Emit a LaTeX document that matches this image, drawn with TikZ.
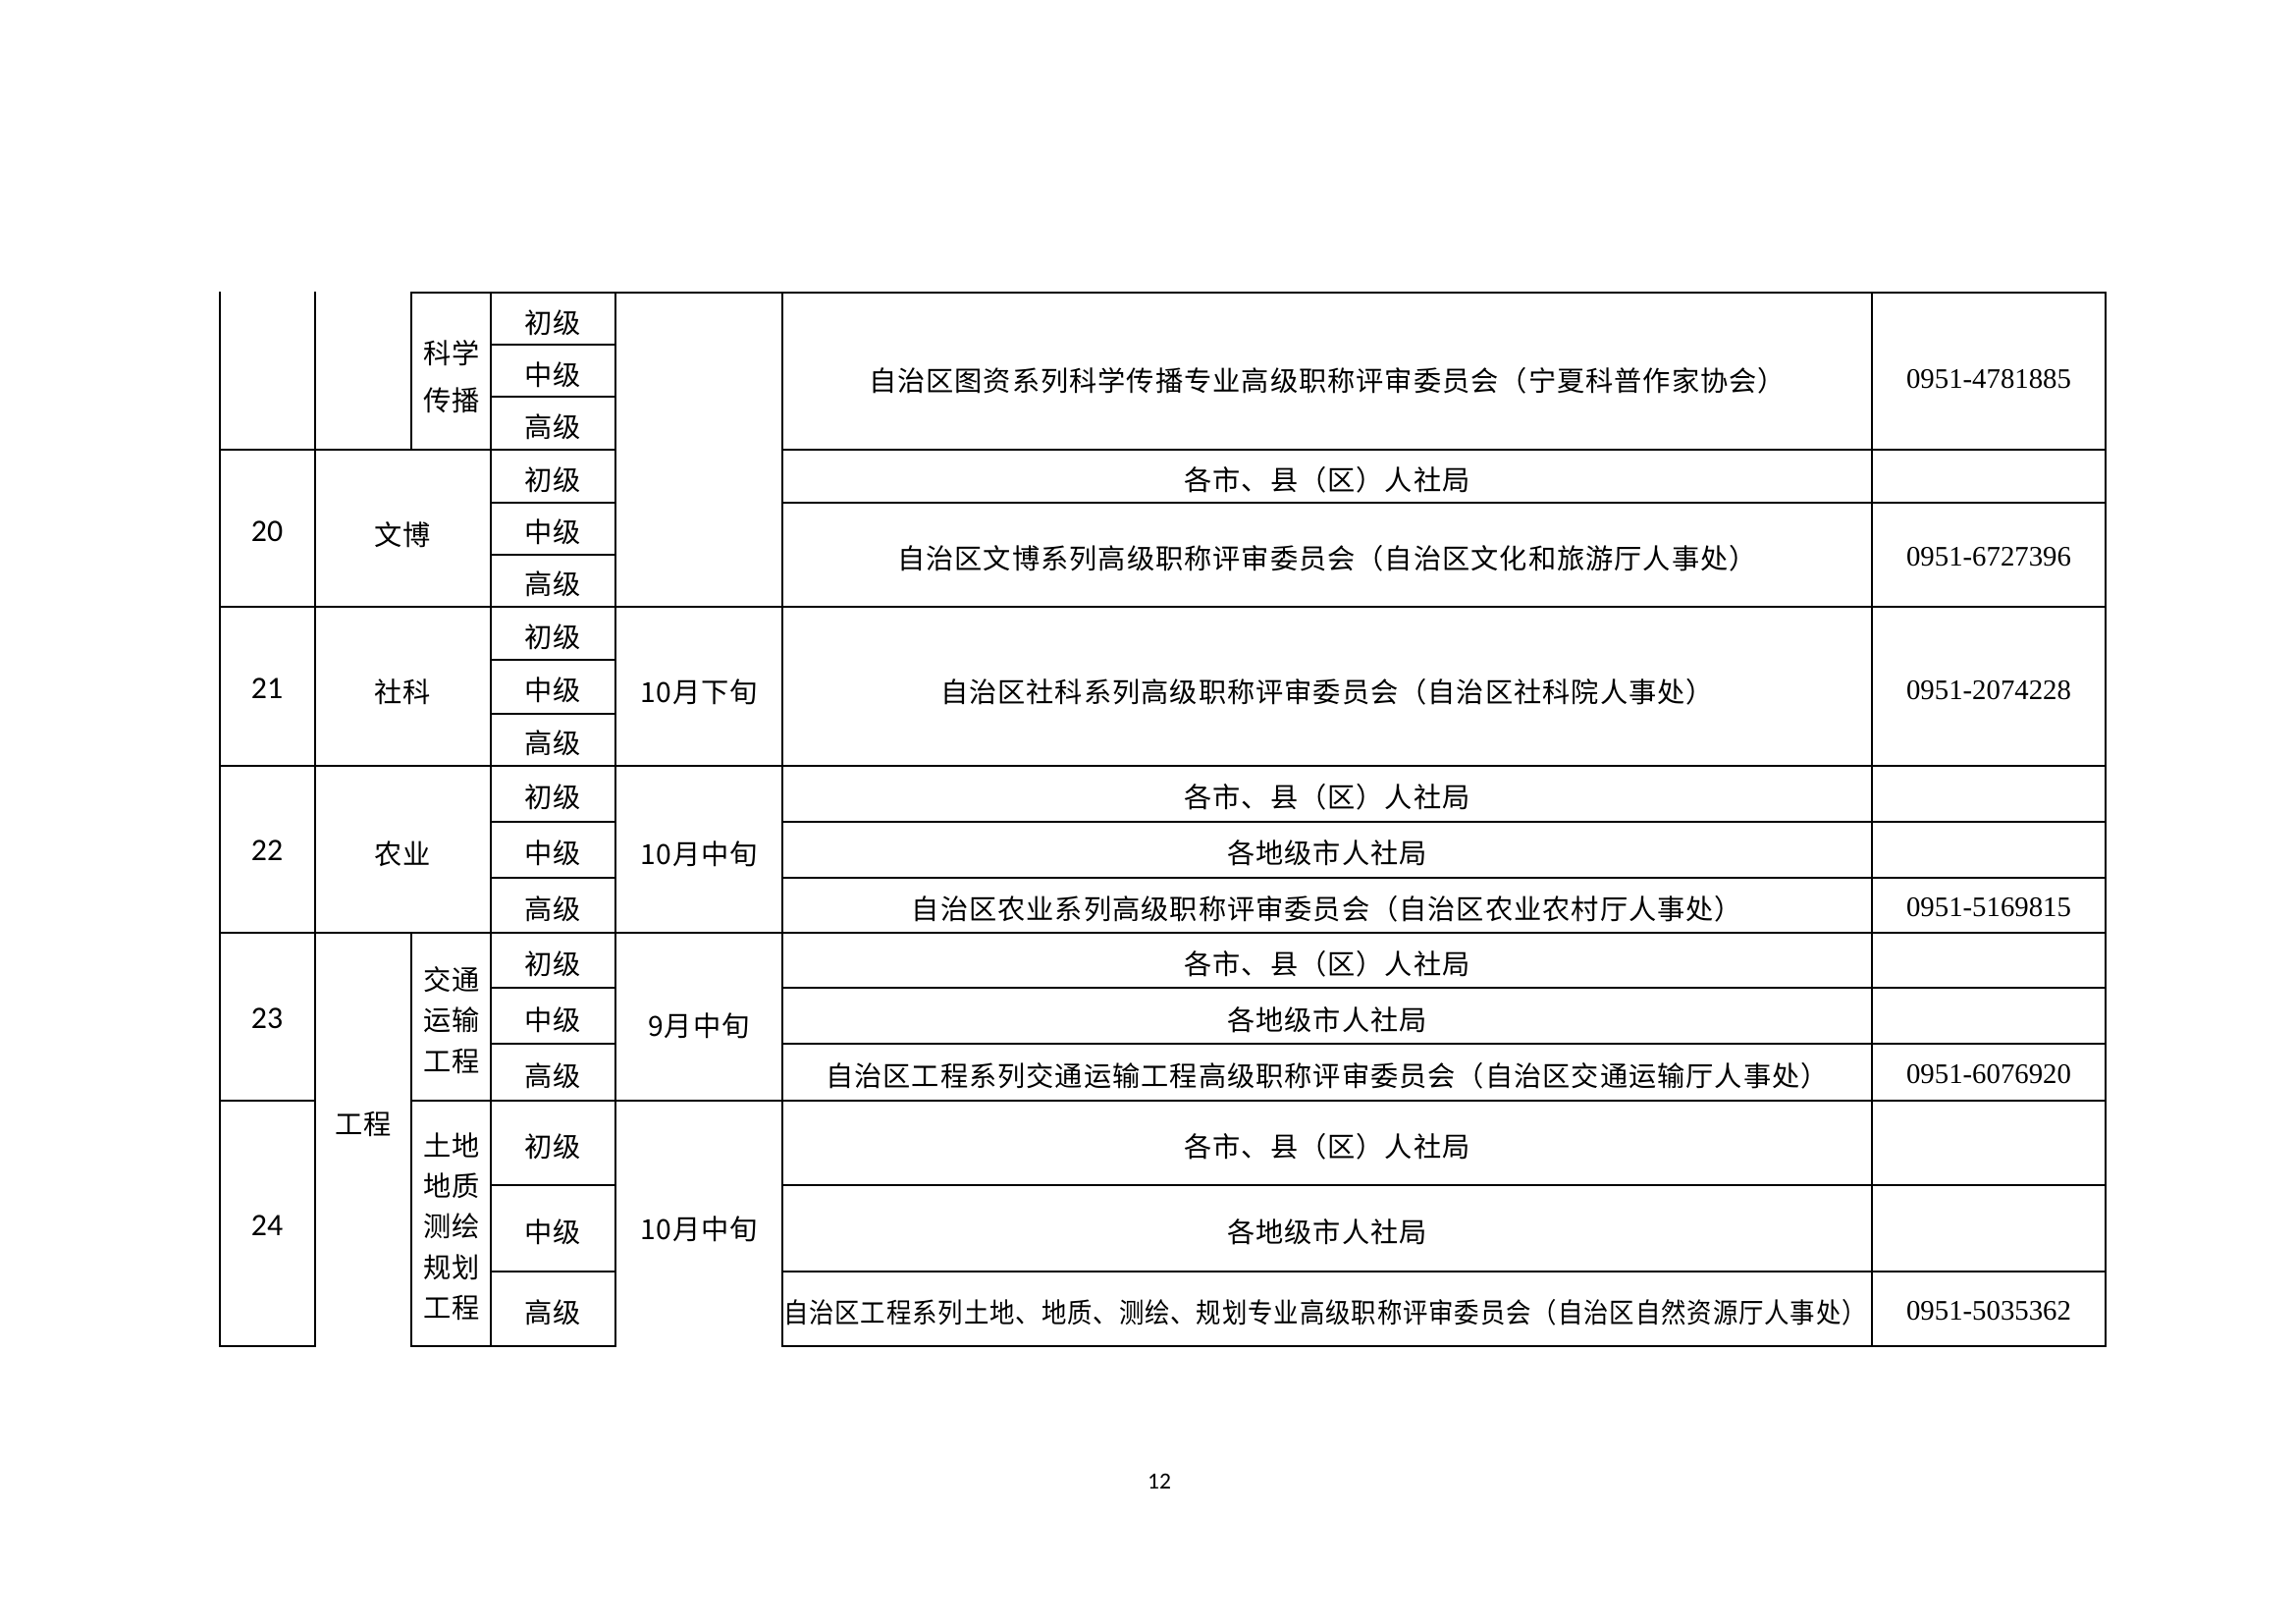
\documentclass[tikz,border=0pt]{standalone}
\usepackage{fontspec}
\usepackage{graphicx}
\newfontfamily\cjk[LetterSpace=3.5]{Noto Sans CJK SC}
\newfontfamily\carl{Carlito}
\newfontfamily\telfont{Liberation Serif}
\begin{document}
\begin{tikzpicture}[x=0.127mm,y=-0.127mm,
  grid/.style={line width=0.7pt,black,line cap=rect},
  zh/.style={font=\cjk\fontsize{10.2}{12}\selectfont,inner sep=0pt,anchor=center,yshift=-0.5mm},
  zhv/.style={font=\cjk\fontsize{10.2}{14.9}\selectfont,inner sep=0pt,anchor=center,align=center},
  zhw/.style={font=\cjk\fontsize{10.2}{17.3}\selectfont,inner sep=0pt,anchor=center,align=center},
  num/.style={font=\carl\fontsize{11.5}{13}\selectfont,inner sep=0pt,anchor=center},
  tel/.style={font=\telfont\fontsize{10.4}{12}\selectfont,inner sep=0pt,anchor=center,yshift=-0.3mm},
  pg/.style={font=\carl\fontsize{8.5}{10}\selectfont,inner sep=0pt,anchor=center}]
\useasboundingbox[fill=white] (0,0) rectangle (2339,1653);

% ---------- horizontal lines ----------
\draw[grid] (419,298) -- (2145,298);
\foreach \y in {351,404,565,672,727}
  \draw[grid] (500,\y) -- (627,\y);
\draw[grid] (224,458) -- (627,458);
\draw[grid] (797,458) -- (2145,458);
\draw[grid] (500,512) -- (627,512);
\draw[grid] (797,512) -- (2145,512);
\draw[grid] (224,618) -- (2145,618);
\draw[grid] (224,780) -- (2145,780);
\foreach \y in {837,894,1006,1063,1207,1295}{
  \draw[grid] (500,\y) -- (627,\y);
  \draw[grid] (797,\y) -- (2145,\y);}
\draw[grid] (224,950) -- (2145,950);
\draw[grid] (224,1121) -- (321,1121);
\draw[grid] (419,1121) -- (2145,1121);
\draw[grid] (224,1371) -- (321,1371);
\draw[grid] (419,1371) -- (627,1371);
\draw[grid] (797,1371) -- (2145,1371);

% ---------- vertical lines ----------
\foreach \x in {224,321,500,627,797,1907,2145}
  \draw[grid] (\x,298) -- (\x,1371);
\draw[grid] (419,298) -- (419,458);
\draw[grid] (419,950) -- (419,1371);

% ---------- 科学传播 ----------
\node[zhw] (kxcb) at (460,384) {科学\\传播};
\node[zh] (kxcb1) at (563,325) {初级};
\node[zh] (kxcb2) at (563,378) {中级};
\node[zh] (kxcb3) at (563,431) {高级};
\node[zh] (kxcbi) at (1352,384) {自治区图资系列科学传播专业高级职称评审委员会（宁夏科普作家协会）};
\node[tel] (kxcbt) at (2026,384) {0951-4781885};

% ---------- 20 文博 ----------
\node[num] (n20) at (272,541) {20};
\node[zh] (wb) at (410,541) {文博};
\node[zh] (wb1) at (563,485) {初级};
\node[zh] (wb2) at (563,538) {中级};
\node[zh] (wb3) at (563,591) {高级};
\node[zh] (wbi1) at (1352,485) {各市、县（区）人社局};
\node[zh] (wbi2) at (1352,565) {自治区文博系列高级职称评审委员会（自治区文化和旅游厅人事处）};
\node[tel] (wbt) at (2026,565) {0951-6727396};

% ---------- 21 社科 ----------
\node[num] (n21) at (272,701) {21};
\node[zh] (sk) at (410,701) {社科};
\node[zh] (sk1) at (563,645) {初级};
\node[zh] (sk2) at (563,699) {中级};
\node[zh] (sk3) at (563,753) {高级};
\node[zh] (skd) at (712,701) {10月下旬};
\node[zh] (ski) at (1352,701) {自治区社科系列高级职称评审委员会（自治区社科院人事处）};
\node[tel] (skt) at (2026,701) {0951-2074228};

% ---------- 22 农业 ----------
\node[num] (n22) at (272,866) {22};
\node[zh] (ny) at (410,866) {农业};
\node[zh] (ny1) at (563,808) {初级};
\node[zh] (ny2) at (563,865) {中级};
\node[zh] (ny3) at (563,922) {高级};
\node[zh] (nyd) at (712,866) {10月中旬};
\node[zh] (nyi1) at (1352,808) {各市、县（区）人社局};
\node[zh] (nyi2) at (1352,865) {各地级市人社局};
\node[zh] (nyi3) at (1352,922) {自治区农业系列高级职称评审委员会（自治区农业农村厅人事处）};
\node[tel] (nyt) at (2026,922) {0951-5169815};

% ---------- 工程 ----------
\node[zh] (gc) at (370,1141) {工程};

% ---------- 23 交通运输工程 ----------
\node[num] (n23) at (272,1037) {23};
\node[zhv] (jt) at (460,1039) {交通\\运输\\工程};
\node[zh] (jt1) at (563,978) {初级};
\node[zh] (jt2) at (563,1035) {中级};
\node[zh] (jt3) at (563,1092) {高级};
\node[zh] (jtd) at (712,1041) {9月中旬};
\node[zh] (jti1) at (1352,978) {各市、县（区）人社局};
\node[zh] (jti2) at (1352,1035) {各地级市人社局};
\node[zh] (jti3) at (1352,1092) {自治区工程系列交通运输工程高级职称评审委员会（自治区交通运输厅人事处）};
\node[tel] (jtt) at (2026,1092) {0951-6076920};

% ---------- 24 土地地质测绘规划工程 ----------
\node[num] (n24) at (272,1248) {24};
\node[zhv] (td) at (460,1249) {土地\\地质\\测绘\\规划\\工程};
\node[zh] (td1) at (563,1164) {初级};
\node[zh] (td2) at (563,1251) {中级};
\node[zh] (td3) at (563,1333) {高级};
\node[zh] (tdd) at (712,1248) {10月中旬};
\node[zh] (tdi1) at (1352,1164) {各市、县（区）人社局};
\node[zh] (tdi2) at (1352,1251) {各地级市人社局};
\node[zh] (tdi3) at (1350,1333) {\resizebox{140.2mm}{\height}{自治区工程系列土地、地质、测绘、规划专业高级职称评审委员会（自治区自然资源厅人事处）}};
\node[tel] (tdt) at (2026,1333) {0951-5035362};

% ---------- page number ----------
\node[pg] (page) at (1181,1509) {12};
\end{tikzpicture}
\end{document}
